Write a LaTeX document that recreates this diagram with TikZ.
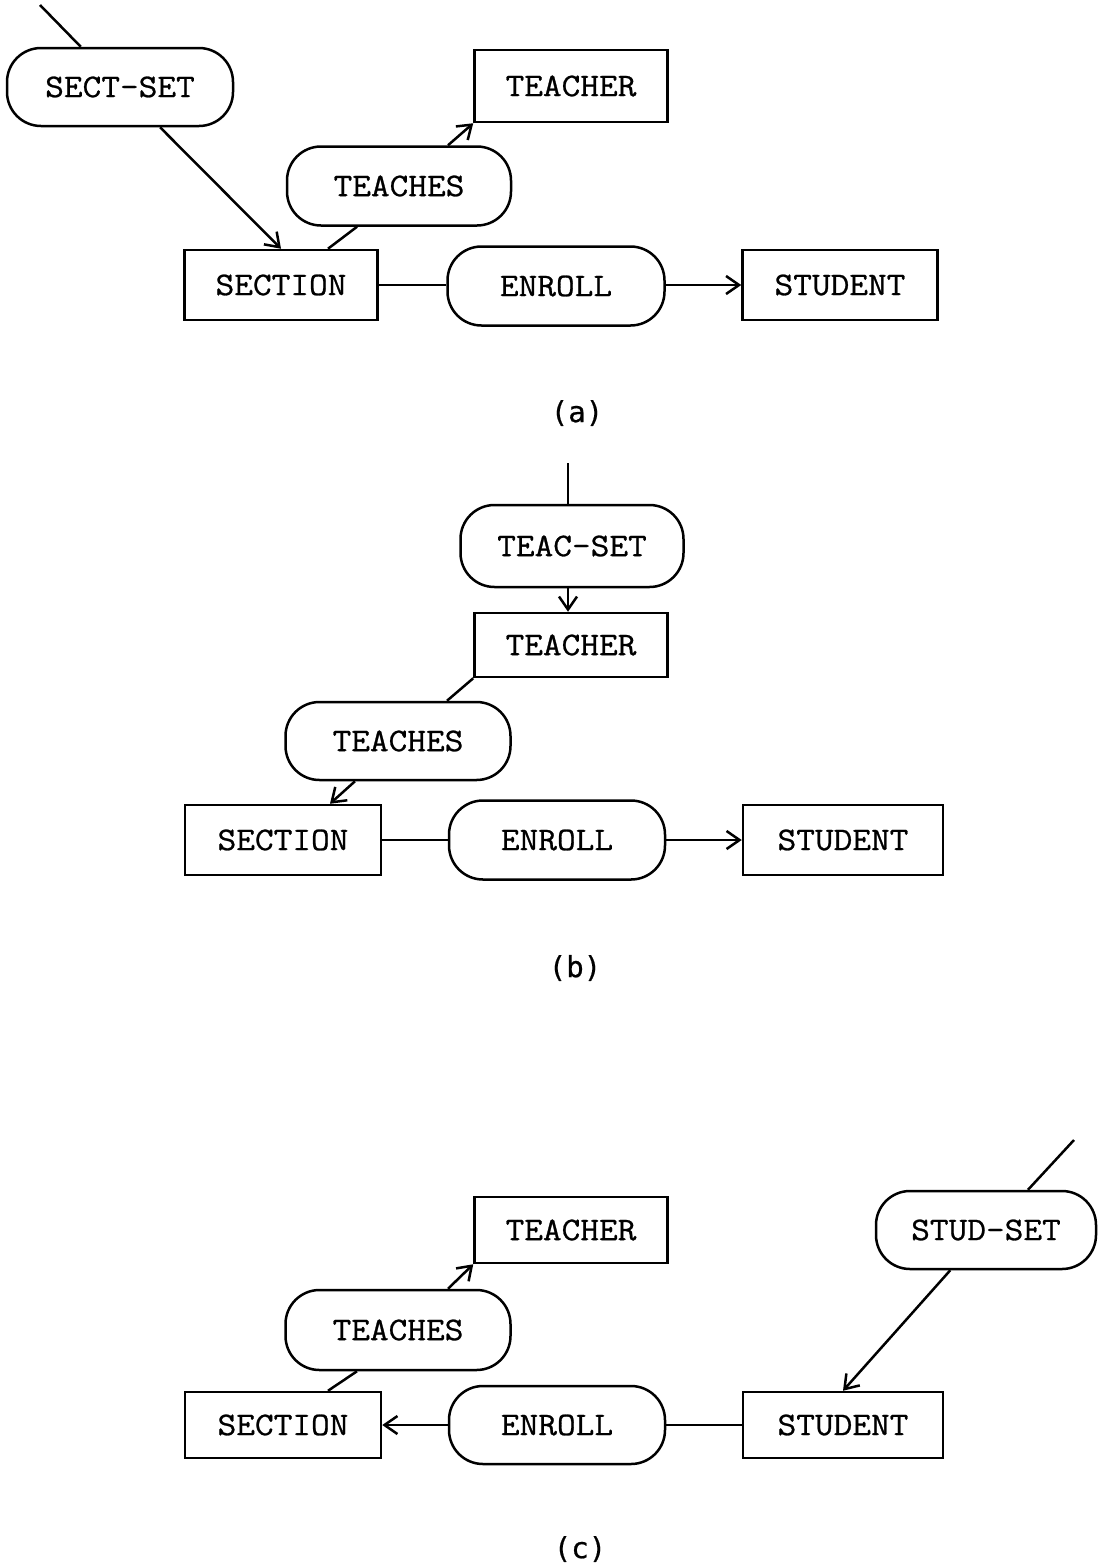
\documentclass[tikz,border=0pt]{standalone}
\usepackage{fontspec}
\setmonofont{Latin Modern Mono}[FakeStretch=1.1,FakeBold=0.8]
\newfontfamily\capfont{DejaVu Sans Mono}[FakeBold=0.6]
\usetikzlibrary{arrows.meta,calc}

\tikzset{
  base/.style={draw, line width=2.5pt, inner sep=0pt, align=center,
    font=\fontsize{33}{38}\selectfont\ttfamily},
  ent/.style={base, rectangle},
  rel/.style={base, rectangle, rounded corners=34pt},
  lnk/.style={line width=2.5pt},
  arr/.style={lnk, -{Straight Barb[length=13pt,width=18pt,line width=2.5pt]}},
  figcap/.style={font=\fontsize{29}{34}\selectfont\capfont}
}

\begin{document}
\begin{tikzpicture}[x=1pt,y=-1pt]
\useasboundingbox (0,0) rectangle (1098,1566);

% ---------- (a) ----------
\node[rel, minimum width=226, minimum height=78] (sset-a) at (120,87) {SECT-SET};
\node[ent, minimum width=193, minimum height=72] (tch-a) at (571,86) {TEACHER};
\node[rel, minimum width=224, minimum height=79] (tcs-a) at (399,186) {TEACHES};
\node[ent, minimum width=193, minimum height=70] (sec-a) at (281,285) {SECTION};
\node[rel, minimum width=217, minimum height=79] (enr-a) at (556,286) {ENROLL};
\node[ent, minimum width=195, minimum height=70] (stu-a) at (840,285) {STUDENT};
\coordinate (fa) at (40,5);
\node[figcap] (lab-a) at (577,413) {(a)};

\draw[lnk] (fa) -- (sset-a);
\draw[arr] (sset-a) -- (sec-a.north);
\draw[arr] ($(tcs-a.north)+(49,0)$) -- (tch-a.south west);
\draw[lnk] ($(tcs-a.south)+(-42,0)$) -- ($(sec-a.north)+(47,0)$);
\draw[lnk] (sec-a.east) -- (enr-a.west |- sec-a.east);
\draw[arr] (enr-a.east |- stu-a.west) -- (stu-a.west);

% ---------- (b) ----------
\node[rel, minimum width=223, minimum height=82] (tset-b) at (572,546) {TEAC-SET};
\node[ent, minimum width=193, minimum height=64] (tch-b) at (571,645) {TEACHER};
\node[rel, minimum width=225, minimum height=78] (tcs-b) at (398,741) {TEACHES};
\node[ent, minimum width=196, minimum height=70] (sec-b) at (283,840) {SECTION};
\node[rel, minimum width=216, minimum height=79] (enr-b) at (557,840) {ENROLL};
\node[ent, minimum width=200, minimum height=70] (stu-b) at (843,840) {STUDENT};
\coordinate (fb) at (568,463);
\node[figcap] (lab-b) at (575,968) {(b)};

\draw[lnk] (fb) -- (fb |- tset-b.north);
\draw[arr] ($(tset-b.south)+(-4,0)$) -- ($(tch-b.north)+(-3,0)$);
\draw[lnk] (tch-b.south west) -- ($(tcs-b.north)+(49,0)$);
\draw[arr] ($(tcs-b.south)+(-43,0)$) -- ($(sec-b.north)+(47,0)$);
\draw[lnk] (sec-b.east) -- (enr-b.west);
\draw[arr] (enr-b.east) -- (stu-b.west);

% ---------- (c) ----------
\node[rel, minimum width=220, minimum height=78] (sset-c) at (986,1230) {STUD-SET};
\node[ent, minimum width=193, minimum height=66] (tch-c) at (571,1230) {TEACHER};
\node[rel, minimum width=225, minimum height=80] (tcs-c) at (398,1330) {TEACHES};
\node[ent, minimum width=196, minimum height=66] (sec-c) at (283,1425) {SECTION};
\node[rel, minimum width=216, minimum height=78] (enr-c) at (557,1425) {ENROLL};
\node[ent, minimum width=200, minimum height=66] (stu-c) at (843,1425) {STUDENT};
\coordinate (fc) at (1074,1140);
\node[figcap] (lab-c) at (580,1549) {(c)};

\draw[lnk] (fc) -- ($(sset-c.north)+(42,0)$);
\draw[arr] (sset-c) -- (stu-c.north);
\draw[arr] ($(tcs-c.north)+(50,0)$) -- (tch-c.south west);
\draw[lnk] ($(tcs-c.south)+(-41,0)$) -- ($(sec-c.north)+(45,0)$);
\draw[arr] (enr-c.west) -- (sec-c.east);
\draw[lnk] (enr-c.east) -- (stu-c.west);
\end{tikzpicture}
\end{document}
